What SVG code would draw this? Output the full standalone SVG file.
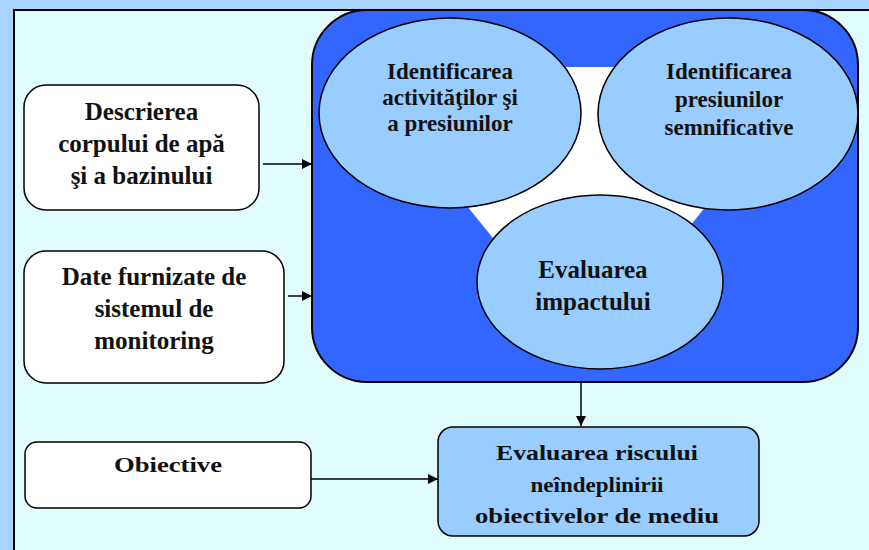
<svg xmlns="http://www.w3.org/2000/svg" width="869" height="550" viewBox="0 0 869 550">
<defs>
<marker id="arr" viewBox="0 0 10 10" refX="10" refY="5" markerWidth="10" markerHeight="10" markerUnits="userSpaceOnUse" orient="auto">
<path d="M0,0 L10,5 L0,10 Z" fill="#000"/>
</marker>
<style>
.box{fill:#fff;stroke:#000;stroke-width:1.5}
.ell{fill:#99CCFF;stroke:#000;stroke-width:1.5}
.t{font-family:"Liberation Serif","Times New Roman",serif;font-weight:bold;fill:#111;text-anchor:middle}
.c{stroke:#000;stroke-width:1.5;fill:none;marker-end:url(#arr)}
</style>
</defs>
<rect x="0" y="0" width="869" height="550" fill="#A8D3FC"/>
<rect x="14" y="10" width="900" height="600" fill="#E0FCFD" stroke="#000" stroke-width="2"/>
<g id="main">
<rect x="312" y="10" width="546" height="372" rx="55" ry="55" fill="#3366FF" stroke="#000" stroke-width="2"/>
<polygon points="354,67 816,67 588,355" fill="#fff"/>
</g>
<g id="n-activitati">
<ellipse class="ell" cx="450" cy="113" rx="131" ry="95"/>
<text class="t" font-size="23" x="450" y="79">Identificarea</text>
<text class="t" font-size="23" x="450" y="105">activităţilor şi</text>
<text class="t" font-size="23" x="450" y="131">a presiunilor</text>
</g>
<g id="n-semnificative">
<ellipse class="ell" cx="728" cy="114" rx="130" ry="96"/>
<text class="t" font-size="23" x="729" y="79">Identificarea</text>
<text class="t" font-size="23" x="729" y="107">presiunilor</text>
<text class="t" font-size="23" x="729" y="135">semnificative</text>
</g>
<g id="n-impact">
<ellipse class="ell" cx="600" cy="282" rx="123" ry="87"/>
<text class="t" font-size="25" x="593" y="278">Evaluarea</text>
<text class="t" font-size="25" x="593" y="310">impactului</text>
</g>
<g id="n-descrierea">
<rect class="box" x="24" y="85" width="235" height="125" rx="22" ry="22"/>
<text class="t" font-size="25" x="141.5" y="120">Descrierea</text>
<text class="t" font-size="25" x="141.5" y="152">corpului de apă</text>
<text class="t" font-size="25" x="141.5" y="184">şi a bazinului</text>
</g>
<g id="n-date">
<rect class="box" x="24" y="251" width="260" height="132" rx="22" ry="22"/>
<text class="t" font-size="25" x="154" y="285">Date furnizate de</text>
<text class="t" font-size="25" x="154" y="317">sistemul de</text>
<text class="t" font-size="25" x="154" y="349">monitoring</text>
</g>
<g id="n-obiective">
<rect class="box" x="25" y="442" width="286" height="66" rx="12" ry="12"/>
<text class="t" font-size="22" x="168" y="472" textLength="108" lengthAdjust="spacingAndGlyphs">Obiective</text>
</g>
<g id="n-risc">
<rect x="438" y="427" width="321" height="109" rx="15" ry="15" fill="#99CCFF" stroke="#000" stroke-width="1.5"/>
<text class="t" font-size="22" x="597" y="460" textLength="202" lengthAdjust="spacingAndGlyphs">Evaluarea riscului</text>
<text class="t" font-size="22" x="597" y="492" textLength="133" lengthAdjust="spacingAndGlyphs">neîndeplinirii</text>
<text class="t" font-size="22" x="597" y="523" textLength="244" lengthAdjust="spacingAndGlyphs">obiectivelor de mediu</text>
</g>
<g id="connectors">
<line class="c" x1="263" y1="164" x2="312" y2="164"/>
<line class="c" x1="288" y1="296" x2="312" y2="296"/>
<line class="c" x1="581" y1="382" x2="581" y2="426"/>
<line class="c" x1="311" y1="479" x2="438" y2="479"/>
</g>
</svg>
